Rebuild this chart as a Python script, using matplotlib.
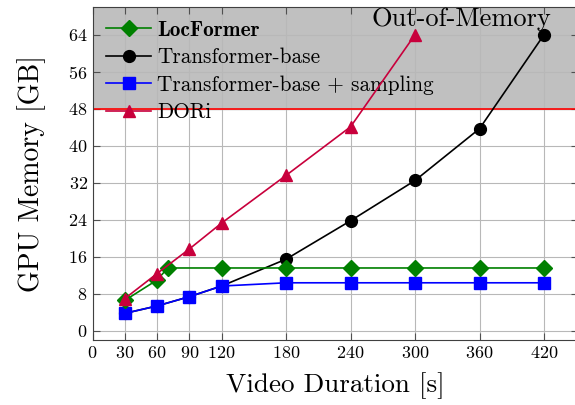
import numpy as np
import matplotlib
matplotlib.use("Agg")
from matplotlib import pyplot as plt

plt.rcParams['font.family'] = ['cmr10', 'DejaVu Serif']
plt.rcParams['mathtext.fontset'] = 'cm'
plt.rcParams['axes.formatter.use_mathtext'] = True

# dados
x_loc = [30, 60, 70, 120, 180, 240, 300, 360, 420]
y_loc = [6.6, 11.0, 13.6, 13.6, 13.6, 13.6, 13.6, 13.6, 13.6]

x_tb = [30, 60, 90, 120, 180, 240, 300, 360, 420]
y_tb = [3.8, 5.4, 7.4, 9.7, 15.5, 23.8, 32.5, 43.7, 64.0]

x_tbs = [30, 60, 90, 120, 180, 240, 300, 360, 420]
y_tbs = [3.8, 5.4, 7.4, 9.7, 10.4, 10.4, 10.4, 10.4, 10.4]

x_dori = [30, 60, 90, 120, 180, 240, 300]
y_dori = [7.0, 12.4, 17.7, 23.3, 33.6, 44.1, 64.0]

xticks = [0, 30, 60, 90, 120, 180, 240, 300, 360, 420]
yticks = [0, 8, 16, 24, 32, 40, 48, 56, 64]
limite = 48

fig = plt.figure(figsize=(5.75, 4.05), dpi=100)
ax = fig.add_axes([0.161, 0.16, 0.845, 0.823])

ax.set_xlim(0, 452)
ax.set_ylim(-2, 70)

ax.axhspan(limite, 70, color='#c0c0c0', zorder=0)
ax.axhline(limite, color='#ff0000', lw=1.2, zorder=1)

ax.plot(x_tb, y_tb, color='black', marker='o', ms=8.5, lw=1.2, label='Transformer-base', zorder=3)
ax.plot(x_tbs, y_tbs, color='#0000ff', marker='s', ms=8.5, lw=1.2, label='Transformer-base + sampling', zorder=4)
ax.plot(x_loc, y_loc, color='#008000', marker='D', ms=8.5, lw=1.2, label='LocFormer', zorder=5)
ax.plot(x_dori, y_dori, color='#c8003c', marker='^', ms=8.5, lw=1.2, label='DORi', zorder=6)

ax.text(0.945, 0.998, 'Out-of-Memory', transform=ax.transAxes, ha='right', va='top',
        fontsize=19, zorder=7)

ax.set_xticks(xticks)
ax.set_yticks(yticks)
ax.tick_params(direction='in', top=True, right=True, labelsize=13, color='#505050', length=5)
ax.grid(True, color='#b8b8b8', lw=0.8, zorder=0.5)
ax.set_axisbelow(True)
for s in ax.spines.values():
    s.set_color('#404040')

ax.set_xlabel('Video Duration [s]', fontsize=19.5, labelpad=8)
ax.set_ylabel('GPU Memory [GB]', fontsize=20, labelpad=16)

h, l = ax.get_legend_handles_labels()
ordem = [2, 0, 1, 3]
leg = ax.legend([h[i] for i in ordem], [l[i] for i in ordem], loc='upper left',
                frameon=False, fontsize=15.3, handlelength=2.1, borderaxespad=0.35,
                labelspacing=0.38, handletextpad=0.3, borderpad=0.3)
leg.get_texts()[0].set_fontweight('bold')
leg.get_texts()[0].set_family(['cmb10', 'DejaVu Serif'])

fig.savefig('out.png', dpi=100)
